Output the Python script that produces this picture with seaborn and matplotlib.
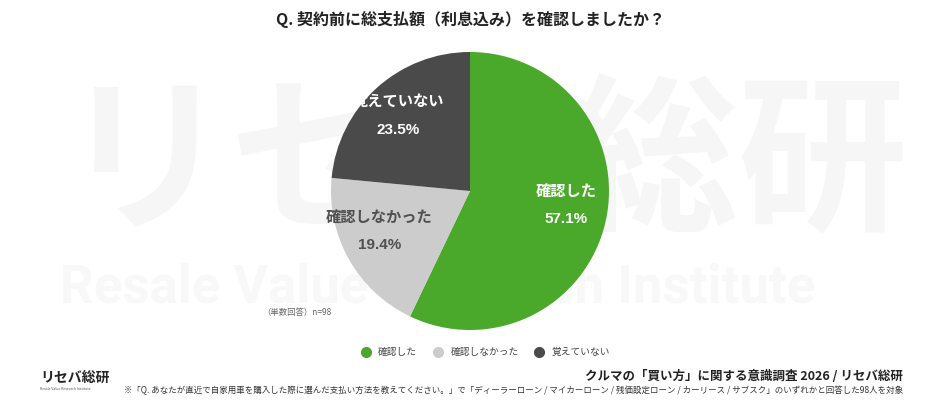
import numpy as np
import matplotlib
matplotlib.use('Agg')
import matplotlib.pyplot as plt
import seaborn as sns

# data
labels = ['確認した', '確認しなかった', '覚えていない']
shares = [57.1, 19.4, 23.5]
colors = ['#4aa92a', '#cccccc', '#4a4a4a']
text_colors = ['white', '#505050', 'white']

title = 'Q. 契約前に総支払額（利息込み）を確認しましたか？'
note_n = '（単数回答）n=98'
survey = 'クルマの「買い方」に関する意識調査 2026 / リセバ総研'
footnote = ('※「Q. あなたが直近で自家用車を購入した際に選んだ支払い方法を教えてください。」で'
            '「ディーラーローン / マイカーローン / 残価設定ローン / カーリース / サブスク」'
            'のいずれかと回答した98人を対象')

sns.set_theme(style='white')
plt.rcParams['font.family'] = ['Noto Sans CJK JP', 'DejaVu Sans']

fig = plt.figure(figsize=(9.4, 4.0), dpi=100)
fig.patch.set_facecolor('white')

# watermark in a background axes
bg = fig.add_axes([0, 0, 1, 1], zorder=-5)
bg.set_axis_off()
bg.set_xlim(0, 940)
bg.set_ylim(400, 0)
bg.text(60, 167, 'リセバ総研', fontsize=122, fontweight='bold', color='#f6f6f6',
        ha='left', va='center')
bg.text(60, 288, 'Resale Value Research Institute', fontsize=38, fontweight='bold',
        color='#f8f8f8', ha='left', va='center', family=['Roboto', 'DejaVu Sans'])

# pie
r = 139
cx, cy = 470, 191
ax = fig.add_axes([(cx - r) / 940, 1 - (cy + r) / 400, 2 * r / 940, 2 * r / 400], zorder=2)
ax.set_facecolor('none')
wedges, _ = ax.pie(shares, colors=colors, startangle=90, counterclock=False,
                   wedgeprops=dict(linewidth=0))
ax.set_aspect('equal')
ax.set_xlim(-1, 1)
ax.set_ylim(-1, 1)

offsets = [(0.02, 0.05), (-0.05, 0.05), (-0.05, 0.03)]
for w, lab, val, tc, off in zip(wedges, labels, shares, text_colors, offsets):
    mid = np.deg2rad((w.theta1 + w.theta2) / 2)
    x = 0.69 * np.cos(mid) + off[0]
    y = 0.69 * np.sin(mid) + off[1]
    ax.text(x, y + 0.1, lab, ha='center', va='center', color=tc, fontsize=11, fontweight='bold')
    ax.text(x, y - 0.1, f'{val}%', ha='center', va='center', color=tc, fontsize=11,
            fontweight='bold', family=['Liberation Sans', 'DejaVu Sans'])

# title
fig.text(0.5, 1 - 20 / 400, title, ha='center', va='center', fontsize=11.5, fontweight='bold',
         color='#222222')

fig.text(297 / 940, 1 - 313 / 400, note_n, ha='center', va='center', fontsize=6,
         color='#666666')

# legend
handles = [plt.Line2D([], [], marker='o', linestyle='', markersize=7, markerfacecolor=c,
                      markeredgecolor=c) for c in colors]
fig.legend(handles, labels, loc='center', bbox_to_anchor=(483 / 940, 1 - 352 / 400), ncol=3,
           frameon=False, fontsize=7, handletextpad=0.3, columnspacing=1.1,
           labelcolor='#444444')

# footer
fig.text(903 / 940, 1 - 376 / 400, survey, ha='right', va='center', fontsize=9,
         fontweight='bold', color='#222222')
fig.text(903 / 940, 1 - 390 / 400, footnote, ha='right', va='center', fontsize=6.1,
         color='#333333')

# logo
fig.text(40 / 940, 1 - 378 / 400, 'リセバ総研', ha='left', va='center', fontsize=10,
         fontweight='bold', color='#222222')
fig.text(40 / 940, 1 - 389 / 400, 'Resale Value Research Institute', ha='left', va='center',
         fontsize=2.5, color='#555555')

fig.savefig('out.png', dpi=100, facecolor='white')
